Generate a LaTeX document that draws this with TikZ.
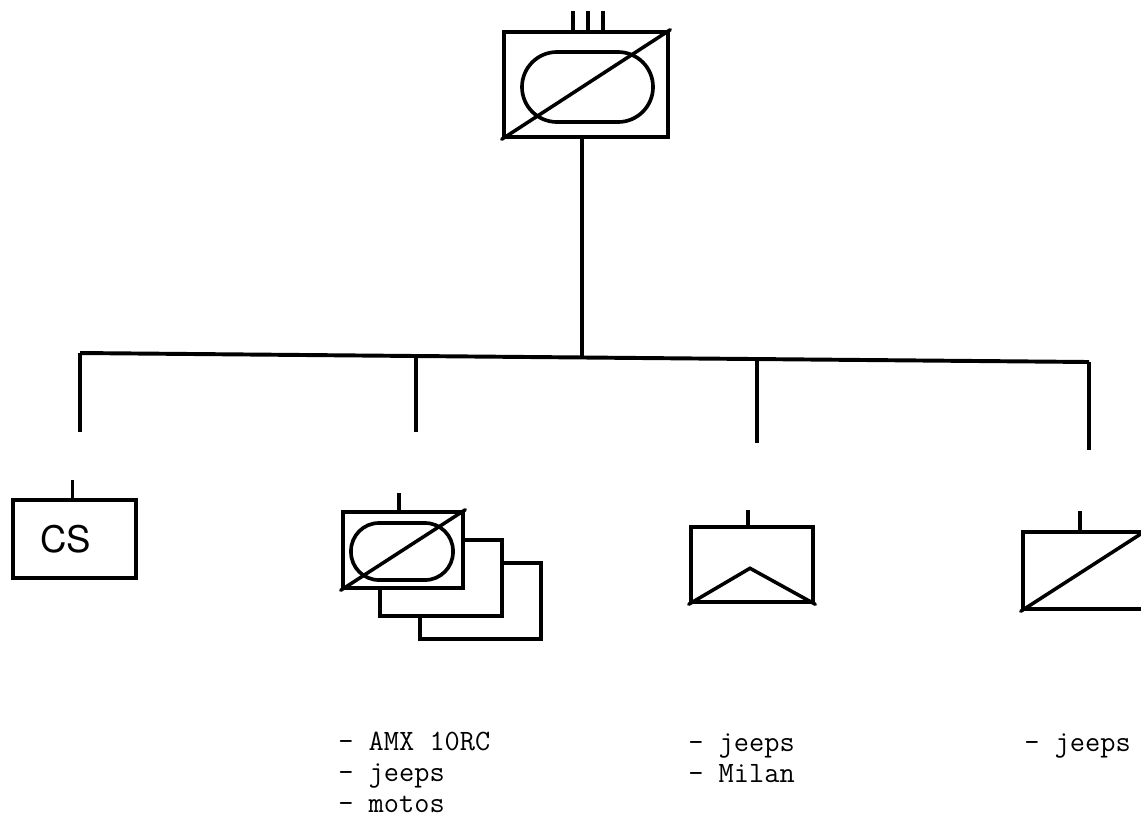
\documentclass[tikz,border=0pt]{standalone}
\usepackage{fontspec}
\setsansfont{TeX Gyre Heros}
\usetikzlibrary{calc}
\tikzset{
	unit/.style={rectangle, draw=black, fill=white, line width=3.2pt, inner sep=0pt, minimum width=3.05cm, minimum height=1.9cm},
	track/.style={rectangle, rounded corners=0.7cm, draw=black, line width=2.6pt, inner sep=0pt},
	diag/.style={line width=2.5pt, line cap=round},
	wire/.style={line width=2.8pt},
	tickline/.style={line width=2.2pt},
	list/.style={anchor=base west, align=left, inner sep=0pt, font={\fontsize{21}{22}\selectfont\ttfamily}},
}

\begin{document}
\begin{tikzpicture}[x=0.025cm, y=-0.025cm]
	\useasboundingbox (0,0) rectangle (1141,818);
	\clip (0,0) rectangle (1141,818);
	% top unit
	\node[unit, minimum width=4.1cm, minimum height=2.625cm] (hq) at (586,84.5) {};
	\node[track, minimum width=3.275cm, minimum height=1.75cm, rounded corners=0.875cm] (hqtrack) at (587.5,87) {};
	\draw[diag] (hq.south west) -- (hq.north east);
	\foreach \dx in {-13,2,17}
		\draw[tickline] ($(hq.north)+(\dx,0)$) -- ++(0,-19);
	% bus and drops
	\coordinate (j0) at (582,357.5);
	\coordinate (b1) at (80,353);
	\coordinate (b2) at (416,356);
	\coordinate (b3) at (757,359);
	\coordinate (b4) at (1089,362);
	\coordinate (e1) at (80,432);
	\coordinate (e2) at (416,432);
	\coordinate (e3) at (757,443);
	\coordinate (e4) at (1089,450);
	\draw[wire] (hq.south -| j0) -- (j0);
	\draw[wire] (b1) -- (b4);
	\foreach \i in {1,...,4}
		\draw[wire] (b\i) -- (e\i);
	% subunits
	\node[unit, minimum width=3.075cm, minimum height=1.95cm, font={\fontsize{26}{26}\selectfont\sffamily}] (cs) at (74.5,539) {\hspace*{-0.45cm}CS};
	\draw[tickline] ($(cs.north)+(-2,0)$) -- ++(0,-18);
	\node[unit, minimum width=3.025cm] (sq3) at (480.5,601) {};
	\node[unit] (sq2) at (441,578) {};
	\node[unit, minimum width=3.0cm] (sq1) at (403,550) {};
	\node[track, minimum width=2.55cm, minimum height=1.425cm] (sq1track) at (402,551.5) {};
	\draw[diag] (sq1.south west) -- (sq1.north east);
	\draw[tickline] ($(sq1.north)+(-4,0)$) -- ++(0,-17);
	\node[unit, minimum height=1.875cm] (pl) at (752,564.5) {};
	\draw[diag, line join=miter] (pl.south west) -- ($(pl.south)+(-2,-36)$) -- (pl.south east);
	\draw[tickline] ($(pl.north)+(-4,0)$) -- ++(0,-15);
	\node[unit, minimum height=1.925cm] (sec) at (1084,570.5) {};
	\draw[diag] (sec.south west) -- (sec.north east);
	\draw[tickline] ($(sec.north)+(-4,0)$) -- ++(0,-19);
	% lists (base = last line)
	\node[list] (sqlist) at (338,812) {- AMX 10RC\\- jeeps\\- motos};
	\node[list] (pllist) at (688,782) {- jeeps\\- Milan};
	\node[list] (seclist) at (1024,751) {- jeeps};
\end{tikzpicture}
\end{document}
